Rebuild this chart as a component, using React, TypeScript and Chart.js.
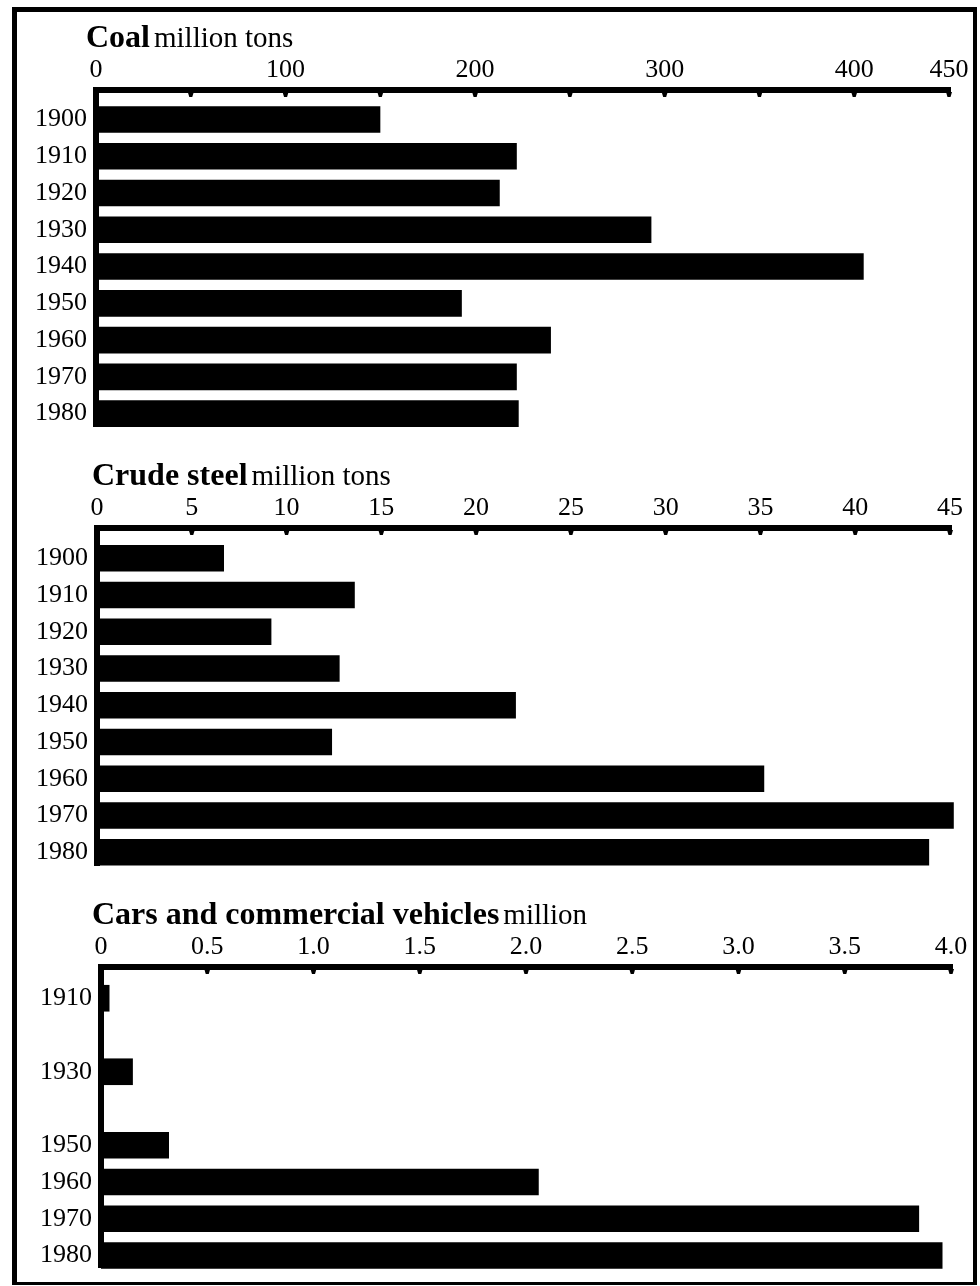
import React, { useEffect, useRef } from 'react';
import { Chart, registerables } from 'chart.js';

Chart.register(...registerables);

// ---- Data ----
const coalYears = [1900, 1910, 1920, 1930, 1940, 1950, 1960, 1970, 1980];
const coalValues = [150, 222, 213, 293, 405, 193, 240, 222, 223];
const coalTickLabels = ['0', '100', '200', '300', '400', '450'];

const steelYears = [1900, 1910, 1920, 1930, 1940, 1950, 1960, 1970, 1980];
const steelValues = [6.7, 13.6, 9.2, 12.8, 22.1, 12.4, 35.2, 45.2, 43.9];
const steelTickLabels = ['0', '5', '10', '15', '20', '25', '30', '35', '40', '45'];

const carYears = [1910, 1930, 1950, 1960, 1970, 1980];
const carValues = [0.04, 0.15, 0.32, 2.06, 3.85, 3.96];
const carTickLabels = ['0', '0.5', '1.0', '1.5', '2.0', '2.5', '3.0', '3.5', '4.0'];

const FONT = "'Liberation Serif', 'Times New Roman', serif";

type PanelProps = {
  bold: string;
  unit: string;
  years: number[];
  values: number[];
  xMax: number;
  xStep: number;
  tickLabel: (v: number, i: number) => string;
  yMin: number;
  yMax: number;
  canvasTop: number;
  canvasHeight: number;
  areaTop: number;
  areaBottom: number;
  areaLeft: number;
  areaRight: number;
  titleX: number;
};

function Panel(p: PanelProps) {
  const ref = useRef<HTMLCanvasElement | null>(null);
  useEffect(() => {
    if (!ref.current) return;
    const decor = {
      id: 'decor',
      afterDatasetsDraw(chart: any) {
        const { ctx, chartArea, scales } = chart;
        const { left, right, top, bottom } = chartArea;
        const x = scales.x;
        ctx.save();
        ctx.fillStyle = '#000';
        // top axis line
        ctx.fillRect(left - 3, top - 3, right - left + 5, 6);
        // left axis line
        ctx.fillRect(left - 3, top - 3, 6, bottom - top + 3);
        // tick bumps
        x.ticks.forEach((t: any) => {
          if (t.value === 0) return;
          const px = x.getPixelForValue(t.value);
          ctx.beginPath();
          ctx.moveTo(px - 3, top + 2);
          ctx.lineTo(px + 3, top + 2);
          ctx.lineTo(px + 1.5, top + 7);
          ctx.lineTo(px - 1.5, top + 7);
          ctx.closePath();
          ctx.fill();
        });
        // title
        ctx.textBaseline = 'alphabetic';
        ctx.textAlign = 'left';
        const ty = top - 43.5;
        ctx.font = `bold 32px ${FONT}`;
        ctx.fillText(p.bold, p.titleX, ty);
        const w = ctx.measureText(p.bold).width;
        ctx.font = `29px ${FONT}`;
        ctx.fillText(p.unit, p.titleX + w + 4, ty);
        ctx.restore();
      },
    };

    const chart = new Chart(ref.current, {
      type: 'bar',
      data: {
        datasets: [
          {
            data: p.years.map((y, i) => ({ x: p.values[i], y })),
            backgroundColor: '#000',
            borderWidth: 0,
            categoryPercentage: 1,
            barPercentage: 0.725,
            clip: false as any,
          } as any,
        ],
      },
      options: {
        indexAxis: 'y',
        responsive: false,
        maintainAspectRatio: false,
        animation: false,
        events: [],
        layout: {
          padding: {
            left: 0,
            top: 0,
            right: 980 - p.areaRight,
            bottom: p.canvasHeight - p.areaBottom,
          },
        },
        plugins: {
          legend: { display: false },
          title: { display: false },
          tooltip: { enabled: false },
        },
        scales: {
          x: {
            type: 'linear',
            position: 'top',
            min: 0,
            max: p.xMax,
            offset: false,
            grid: { display: false, drawTicks: false },
            border: { display: false },
            ticks: {
              stepSize: p.xStep,
              autoSkip: false,
              maxRotation: 0,
              padding: 4,
              color: '#000',
              font: { family: FONT, size: 26 },
              callback: (v: any, i: number) => p.tickLabel(Number(v), i),
            },
            afterFit: (s: any) => {
              s.height = p.areaTop;
            },
          },
          y: {
            type: 'linear',
            reverse: true,
            min: p.yMin,
            max: p.yMax,
            bounds: 'data',
            offset: false,
            grid: { display: false, drawTicks: false, offset: false },
            border: { display: false },
            ticks: {
              autoSkip: false,
              padding: 9,
              color: '#000',
              font: { family: FONT, size: 26 },
              callback: (v: any) => String(v),
            },
            afterBuildTicks: (s: any) => {
              s.ticks = p.years.map((y) => ({ value: y }));
            },
            afterFit: (s: any) => {
              s.width = p.areaLeft;
              s.paddingTop = 0;
              s.paddingBottom = 0;
            },
          },
        },
      } as any,
      plugins: [decor],
    });
    return () => chart.destroy();
  }, []);

  return (
    <canvas
      ref={ref}
      width={980}
      height={p.canvasHeight}
      style={{
        position: 'absolute',
        left: 0,
        top: p.canvasTop,
        width: 980,
        height: p.canvasHeight,
      }}
    />
  );
}

export default function App() {
  return (
    <div
      style={{
        position: 'absolute',
        left: 0,
        top: 0,
        width: 980,
        height: 1286,
        background: '#fff',
        overflow: 'hidden',
      }}
    >
      <div
        style={{
          position: 'absolute',
          left: 12,
          top: 7,
          width: 965,
          height: 1278,
          boxSizing: 'border-box',
          borderTop: '5px solid #000',
          borderLeft: '5px solid #000',
          borderRight: '4px solid #000',
          borderBottom: '3px solid #000',
        }}
      />
      <Panel
        bold="Coal"
        unit="million tons"
        years={coalYears}
        values={coalValues}
        xMax={450}
        xStep={50}
        tickLabel={(v) => {
          const s = String(v);
          return coalTickLabels.includes(s) ? s : '';
        }}
        yMin={1891.97}
        yMax={1983.65}
        canvasTop={0}
        canvasHeight={440}
        areaTop={90}
        areaBottom={427}
        areaLeft={96}
        areaRight={949}
        titleX={86}
      />
      <Panel
        bold="Crude steel"
        unit="million tons"
        years={steelYears}
        values={steelValues}
        xMax={45}
        xStep={5}
        tickLabel={(v, i) => steelTickLabels[i] ?? ''}
        yMin={1891.76}
        yMax={1983.73}
        canvasTop={440}
        canvasHeight={440}
        areaTop={88}
        areaBottom={426}
        areaLeft={97}
        areaRight={950}
        titleX={92}
      />
      <Panel
        bold="Cars and commercial vehicles"
        unit="million"
        years={carYears}
        values={carValues}
        xMax={4}
        xStep={0.5}
        tickLabel={(v, i) => carTickLabels[i] ?? ''}
        yMin={1901.5}
        yMax={1983.4}
        canvasTop={880}
        canvasHeight={406}
        areaTop={87}
        areaBottom={388}
        areaLeft={101}
        areaRight={951}
        titleX={92}
      />
    </div>
  );
}
